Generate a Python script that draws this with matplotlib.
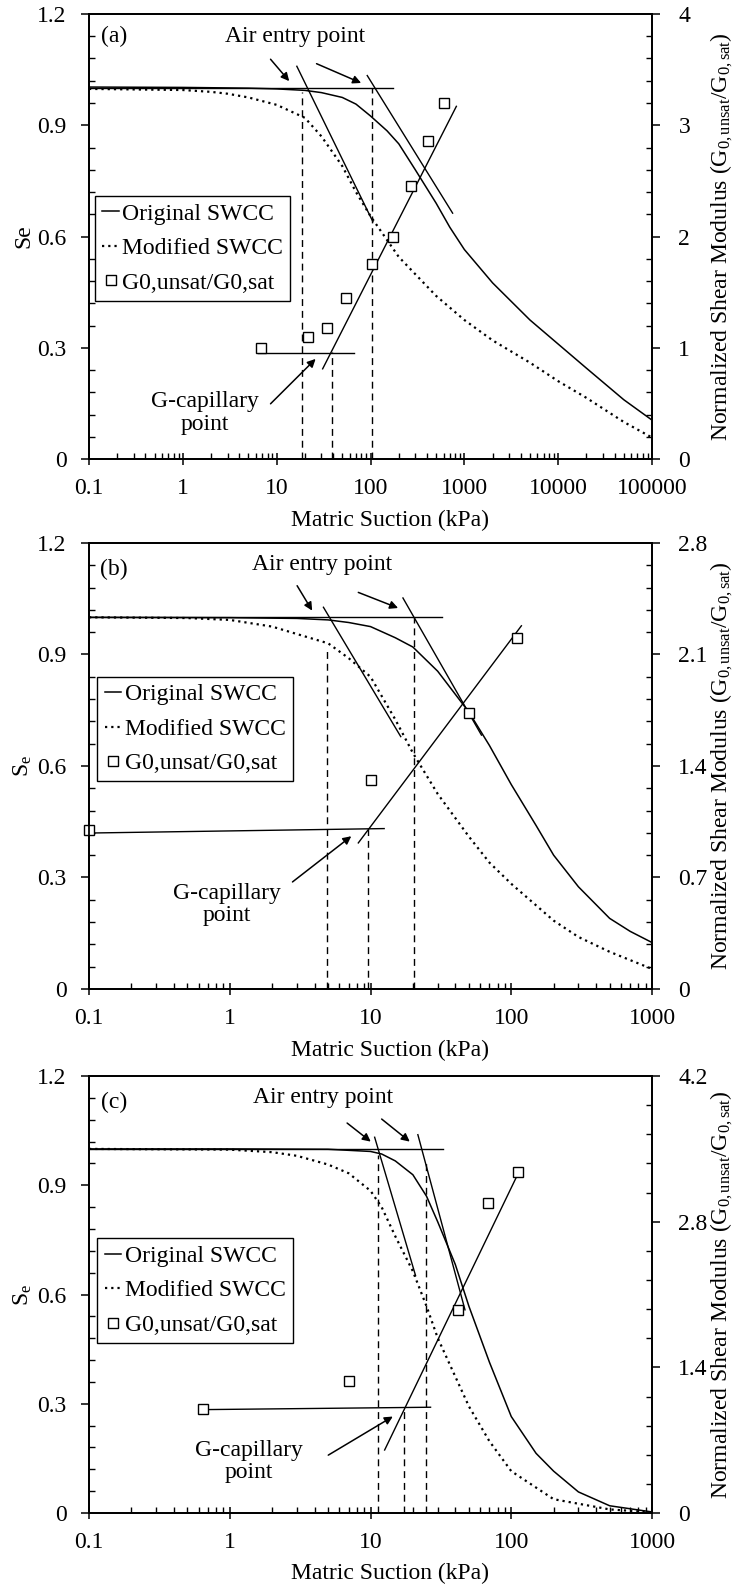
import numpy as np
import matplotlib
matplotlib.use("Agg")
import matplotlib.pyplot as plt
from matplotlib.ticker import FixedLocator, MultipleLocator, FuncFormatter, FormatStrFormatter, NullFormatter

plt.rcParams['font.family'] = ['Liberation Serif', 'DejaVu Serif']
plt.rcParams['mathtext.fontset'] = 'custom'
plt.rcParams['mathtext.rm'] = 'Liberation Serif'
plt.rcParams['mathtext.it'] = 'Liberation Serif:italic'
FS = 17

# ---------------- data ----------------
# panel (a)
a_orig_x = [0.1, 1, 5, 10, 20, 30, 50, 70, 100, 150, 200, 300, 500, 700, 1000, 2000, 5000, 10000, 20000, 50000, 100000]
a_orig_se = [1.003, 1.002, 1.0, 0.998, 0.994, 0.988, 0.975, 0.957, 0.925, 0.885, 0.85, 0.78, 0.69, 0.625, 0.565, 0.475, 0.375, 0.31, 0.245, 0.16, 0.105]
a_mod_x = [0.1, 1, 2, 3, 5, 10, 20, 30, 50, 70, 100, 200, 500, 1000, 2000, 5000, 10000, 20000, 50000, 100000]
a_mod_se = [0.998, 0.995, 0.99, 0.985, 0.975, 0.955, 0.92, 0.87, 0.79, 0.72, 0.655, 0.545, 0.44, 0.375, 0.32, 0.26, 0.21, 0.165, 0.1, 0.058]
a_g_x = [6.84, 21.6, 34.3, 55, 103.5, 172, 272, 407, 610]
a_g = [1.0, 1.10, 1.18, 1.45, 1.75, 2.0, 2.45, 2.855, 3.2]
a_tan1_x, a_tan1_se = [16.4, 106], [1.059, 0.640]
a_tan2_x, a_tan2_se = [92.3, 750], [1.034, 0.663]
a_hline_x = [0.1, 174]
a_dash_x = [18.8, 38.9, 103.5]
a_dash_top = [0.99, 0.288, 1.0]
a_ghline_x, a_ghline_g = [6.3, 66.8], [0.956, 0.956]
a_gline_x, a_gline_g = [30.9, 822], [0.811, 3.17]

# panel (b)
b_orig_x = [0.1, 1, 3, 5, 7, 10, 15, 20, 30, 50, 70, 100, 150, 200, 300, 500, 700, 1000]
b_orig_se = [1.0, 0.999, 0.997, 0.993, 0.986, 0.975, 0.945, 0.92, 0.855, 0.745, 0.655, 0.55, 0.44, 0.36, 0.275, 0.19, 0.155, 0.125]
b_mod_x = [0.1, 0.5, 1, 2, 3, 5, 7, 10, 15, 20, 30, 50, 70, 100, 200, 300, 500, 1000]
b_mod_se = [1.0, 0.998, 0.993, 0.975, 0.955, 0.93, 0.89, 0.84, 0.725, 0.635, 0.525, 0.41, 0.34, 0.283, 0.184, 0.14, 0.1, 0.054]
b_g_x = [0.1, 10.07, 49.9, 110]
b_g = [0.996, 1.315, 1.73, 2.202]
b_tan1_x, b_tan1_se = [4.63, 16.4], [1.027, 0.679]
b_tan2_x, b_tan2_se = [17.0, 61.4], [1.052, 0.683]
b_hline_x = [0.1, 32.2]
b_dash_x = [4.89, 9.62, 20.3]
b_dash_top = [0.92, 0.431, 1.0]
b_ghline_x, b_ghline_g = [0.1, 12.5], [0.979, 1.007]
b_gline_x, b_gline_g = [8.19, 118], [0.917, 2.28]

# panel (c)
c_orig_x = [0.1, 1, 5, 10, 12, 15, 20, 25, 30, 40, 50, 70, 100, 150, 200, 300, 500, 1000]
c_orig_se = [1.0, 1.0, 0.999, 0.993, 0.986, 0.967, 0.929, 0.87, 0.80, 0.683, 0.568, 0.414, 0.265, 0.164, 0.115, 0.058, 0.02, 0.003]
c_mod_x = [0.1, 1, 2, 3, 5, 7, 10, 12, 15, 20, 25, 30, 40, 50, 70, 100, 200, 500, 1000]
c_mod_se = [1.0, 0.998, 0.991, 0.981, 0.957, 0.933, 0.885, 0.84, 0.76, 0.664, 0.568, 0.481, 0.375, 0.293, 0.197, 0.115, 0.038, 0.01, 0.002]
c_g_x = [0.641, 6.98, 41.8, 67.9, 111]
c_g = [1.004, 1.273, 1.953, 2.981, 3.277]
c_tan1_x, c_tan1_se = [10.7, 20.9], [1.032, 0.652]
c_tan2_x, c_tan2_se = [21.7, 46.9], [1.039, 0.558]
c_hline_x = [0.1, 32.7]
c_dash_x = [11.3, 17.2, 24.9]
c_dash_top = [0.982, 0.289, 0.962]
c_ghline_x, c_ghline_g = [0.641, 26.7], [0.994, 1.017]
c_gline_x, c_gline_g = [12.6, 113.8], [0.606, 3.284]

# ---------------- figure ----------------
fig = plt.figure(figsize=(7.38, 15.89), dpi=100)

panels = [
    dict(tag='(a)', rect=[0.1206, 0.7111, 0.7629, 0.2801], xmax=1e5, gmax=4.0, gstep=1.0,
         ylab='Se', leg=(0.011, 0.591),
         orig=(a_orig_x, a_orig_se), mod=(a_mod_x, a_mod_se), g=(a_g_x, a_g),
         tans=[(a_tan1_x, a_tan1_se), (a_tan2_x, a_tan2_se)], hline=a_hline_x,
         dash=(a_dash_x, a_dash_top), ghl=(a_ghline_x, a_ghline_g), gl=(a_gline_x, a_gline_g),
         tagpos=(0.184, 1.14), airpos=(15.8, 1.14), capos=(1.72, 0.124),
         arrows=[((8.6, 1.078), (13.6, 1.019)), ((26.6, 1.066), (79.4, 1.014)), ((8.6, 0.149), (26, 0.270))]),
    dict(tag='(b)', rect=[0.1206, 0.3776, 0.7629, 0.2807], xmax=1e3, gmax=2.8, gstep=0.7,
         ylab='S$_\\mathrm{e}$', leg=(0.015, 0.70),
         orig=(b_orig_x, b_orig_se), mod=(b_mod_x, b_mod_se), g=(b_g_x, b_g),
         tans=[(b_tan1_x, b_tan1_se), (b_tan2_x, b_tan2_se)], hline=b_hline_x,
         dash=(b_dash_x, b_dash_top), ghl=(b_ghline_x, b_ghline_g), gl=(b_gline_x, b_gline_g),
         tagpos=(0.15, 1.128), airpos=(4.53, 1.142), capos=(0.95, 0.227),
         arrows=[((3.01, 1.085), (3.85, 1.018)), ((8.19, 1.067), (15.7, 1.025)), ((2.79, 0.288), (7.3, 0.411))]),
    dict(tag='(c)', rect=[0.1206, 0.0478, 0.7629, 0.2750], xmax=1e3, gmax=4.2, gstep=1.4,
         ylab='S$_\\mathrm{e}$', leg=(0.015, 0.629),
         orig=(c_orig_x, c_orig_se), mod=(c_mod_x, c_mod_se), g=(c_g_x, c_g),
         tans=[(c_tan1_x, c_tan1_se), (c_tan2_x, c_tan2_se)], hline=c_hline_x,
         dash=(c_dash_x, c_dash_top), ghl=(c_ghline_x, c_ghline_g), gl=(c_gline_x, c_gline_g),
         tagpos=(0.15, 1.128), airpos=(4.57, 1.14), capos=(1.37, 0.142),
         arrows=[((6.82, 1.071), (10.04, 1.02)), ((12.0, 1.082), (19.0, 1.02)), ((5.01, 0.159), (14.4, 0.265))]),
]

for p in panels:
    ax = fig.add_axes(p['rect'])
    ax2 = ax.twinx()

    # SWCC curves
    l1, = ax.plot(*p['orig'], color='k', lw=1.1, label='Original SWCC')
    l2, = ax.plot(*p['mod'], color='k', lw=1.6, linestyle=(0, (1, 1.8)), label='Modified SWCC')

    # construction lines
    for tx, ts in p['tans']:
        ax.plot(tx, ts, color='k', lw=1.0)
    ax.plot(p['hline'], [1.0, 1.0], color='k', lw=1.0)
    for dx, dt in zip(*p['dash']):
        ax.plot([dx, dx], [0, dt], color='k', lw=1.0, linestyle=(0, (5, 3.5)))

    # shear modulus data
    ax2.plot(*p['ghl'], color='k', lw=1.0)
    ax2.plot(*p['gl'], color='k', lw=1.0)
    l3, = ax2.plot(*p['g'], linestyle='none', marker='s', markersize=7, mfc='white',
                   mec='k', mew=1.0, label='G0,unsat/G0,sat', clip_on=False)

    # annotations
    ax.text(*p['tagpos'], p['tag'], fontsize=FS, ha='center', va='center')
    ax.text(*p['airpos'], 'Air entry point', fontsize=FS, ha='center', va='center')
    ax.text(*p['capos'], 'G-capillary\npoint', fontsize=FS, ha='center', va='center',
            linespacing=1.1)
    for start, end in p['arrows']:
        ax.annotate('', xy=end, xytext=start,
                    arrowprops=dict(arrowstyle='-|>', color='k', lw=1.1,
                                    mutation_scale=12, shrinkA=0, shrinkB=0))

    # axes
    ax.set_xscale('log')
    ax.set_xlim(0.1, p['xmax'])
    ax.set_ylim(0, 1.2)
    ax2.set_ylim(0, p['gmax'])

    decades = 10.0 ** np.arange(-1, np.log10(p['xmax']) + 0.5)
    minors = [d * s for d in decades[:-1] for s in range(2, 10)]
    ax.xaxis.set_major_locator(FixedLocator(decades))
    ax.xaxis.set_minor_locator(FixedLocator(minors))
    ax.xaxis.set_minor_formatter(NullFormatter())
    ax.xaxis.set_major_formatter(FuncFormatter(lambda v, pos: '%g' % v))
    ax.yaxis.set_major_locator(MultipleLocator(0.3))
    ax.yaxis.set_minor_locator(MultipleLocator(0.06))
    ax.yaxis.set_major_formatter(FormatStrFormatter('%g'))
    ax2.yaxis.set_major_locator(MultipleLocator(p['gstep']))
    ax2.yaxis.set_minor_locator(MultipleLocator(p['gstep'] / 5))
    ax2.yaxis.set_major_formatter(FuncFormatter(lambda v, pos: '%g' % round(v, 3)))

    ax.tick_params(axis='x', which='major', direction='inout', length=9, width=1.1, pad=9, labelsize=FS)
    ax.tick_params(axis='x', which='minor', direction='in', length=4, width=1.0)
    ax.tick_params(axis='y', which='major', direction='out', length=6, width=1.1, pad=10, labelsize=FS)
    ax.tick_params(axis='y', which='minor', direction='in', length=4, width=1.0)
    ax2.tick_params(axis='y', which='major', direction='out', length=6, width=1.1, pad=13, labelsize=FS)
    ax2.tick_params(axis='y', which='minor', direction='in', length=4, width=1.0)

    for s in ax.spines.values():
        s.set_linewidth(1.3)
    for s in ax2.spines.values():
        s.set_linewidth(1.3)

    ax.set_xlabel('Matric Suction (kPa)', fontsize=FS)
    ax.xaxis.set_label_coords(0.535, -0.115)
    ax.set_ylabel(p['ylab'], fontsize=FS)
    ax.yaxis.set_label_coords(-0.097, 0.5)
    ax2.set_ylabel('Normalized Shear Modulus (G$_{\\mathrm{0,unsat}}$/G$_{\\mathrm{0,sat}}$)', fontsize=FS)
    ax2.yaxis.set_label_coords(1.10, 0.5)

    leg = ax2.legend([l1, l2, l3], [h.get_label() for h in (l1, l2, l3)],
                     loc='upper left', bbox_to_anchor=p['leg'], borderaxespad=0,
                     fontsize=FS, frameon=True, fancybox=False, framealpha=1,
                     edgecolor='k', handlelength=0.7, handletextpad=0.15,
                     borderpad=0.3, labelspacing=0.55, numpoints=1)
    leg.get_frame().set_linewidth(1.0)

fig.savefig('out.png', dpi=100)
